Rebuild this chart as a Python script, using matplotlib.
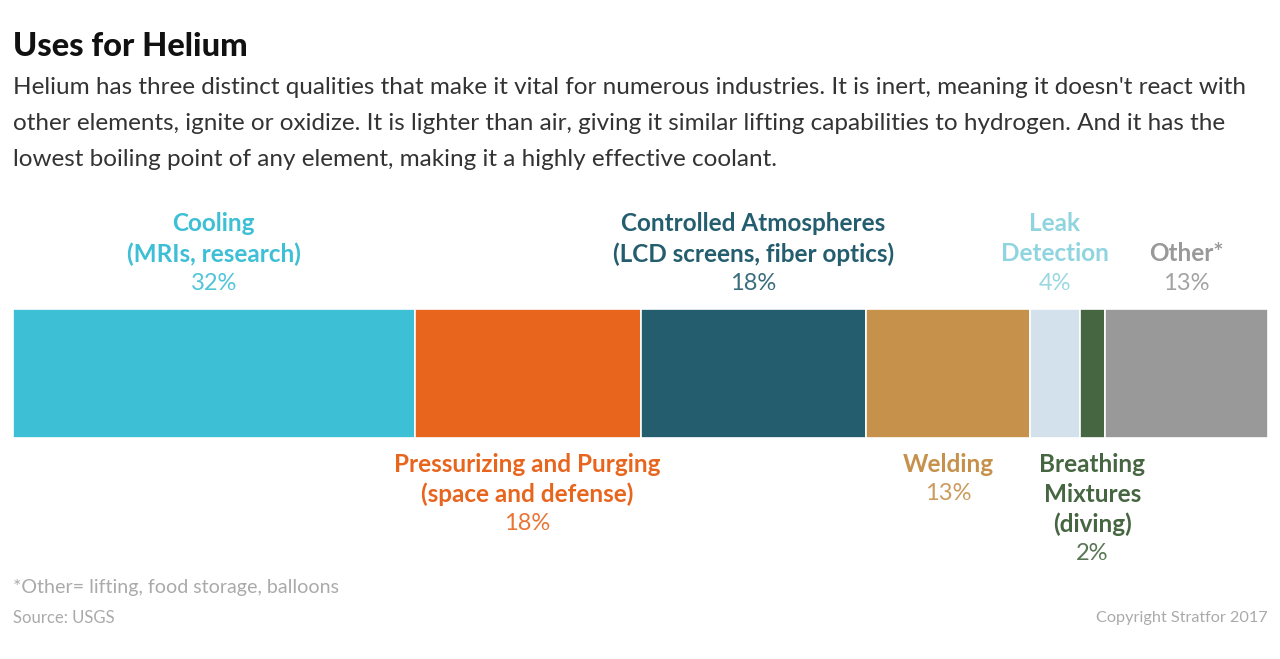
import matplotlib
matplotlib.use('Agg')
from matplotlib import pyplot as plt

# data
categories = ['Cooling', 'Pressurizing and Purging', 'Controlled Atmospheres',
              'Welding', 'Leak Detection', 'Breathing Mixtures', 'Other*']
label_lines = [['Cooling', '(MRIs, research)'],
               ['Pressurizing and Purging', '(space and defense)'],
               ['Controlled Atmospheres', '(LCD screens, fiber optics)'],
               ['Welding'],
               ['Leak', 'Detection'],
               ['Breathing', 'Mixtures', '(diving)'],
               ['Other*']]
shares = [32, 18, 18, 13, 4, 2, 13]
label_side = ['top', 'bottom', 'top', 'bottom', 'top', 'bottom', 'top']
bar_colors = ['#3dbfd6', '#e8651e', '#245e6e', '#c6914b', '#d3e1ed', '#466641', '#999999']
text_colors = ['#3dbfd6', '#e8651e', '#245e6e', '#c6914b', '#8fd4df', '#466641', '#999999']

W, H = 1280, 659
FONT = 'Lato'
plt.rcParams['font.family'] = [FONT, 'DejaVu Sans']

fig = plt.figure(figsize=(W / 100, H / 100), dpi=100)
fig.patch.set_facecolor('white')


def px(x, y):
    return x / W, 1 - y / H


# title and intro
fig.text(*px(13, 46), 'Uses for Helium', fontsize=23.5, fontweight='black',
         color='#111111', va='center', ha='left')
intro = ["Helium has three distinct qualities that make it vital for numerous industries. It is inert, meaning it doesn't react with",
         "other elements, ignite or oxidize. It is lighter than air, giving it similar lifting capabilities to hydrogen. And it has the",
         "lowest boiling point of any element, making it a highly effective coolant."]
for i, line in enumerate(intro):
    fig.text(*px(13, 88 + i * 36), line, fontsize=17.5, color='#333333',
             va='center', ha='left')

# bar
ax = fig.add_axes([13 / W, (H - 438) / H, 1255 / W, 129 / H])
left = 0
for i, s in enumerate(shares):
    ax.barh(0.5, s, left=left, height=1, color=bar_colors[i],
            edgecolor='white', linewidth=1.2)
    center = left + s / 2
    lines = label_lines[i] + [f'{s}%']
    n = len(lines)
    for j, line in enumerate(lines):
        bold = j < n - 1
        if label_side[i] == 'top':
            off, y0 = 25 + (n - 1 - j) * 30, 1
        else:
            off, y0 = -(26 + j * 30), 0
        ax.annotate(line, xy=(center, y0), xytext=(0, off), textcoords='offset pixels',
                    ha='center', va='center', fontsize=17.5 if bold else 17,
                    fontweight='bold' if bold else 'normal',
                    color=text_colors[i], alpha=1 if bold else 0.9,
                    annotation_clip=False)
    left += s
ax.set_xlim(0, sum(shares))
ax.set_ylim(0, 1)
ax.axis('off')

# footer
fig.text(*px(13, 588), '*Other= lifting, food storage, balloons', fontsize=14.1,
         color='#aaaaaa', va='center', ha='left')
fig.text(*px(13, 618), 'Source: USGS', fontsize=12, color='#aaaaaa',
         va='center', ha='left')
fig.text(*px(1268, 618), 'Copyright Stratfor 2017', fontsize=11.7, color='#aaaaaa',
         va='center', ha='right')

plt.savefig('out.png', dpi=100)
